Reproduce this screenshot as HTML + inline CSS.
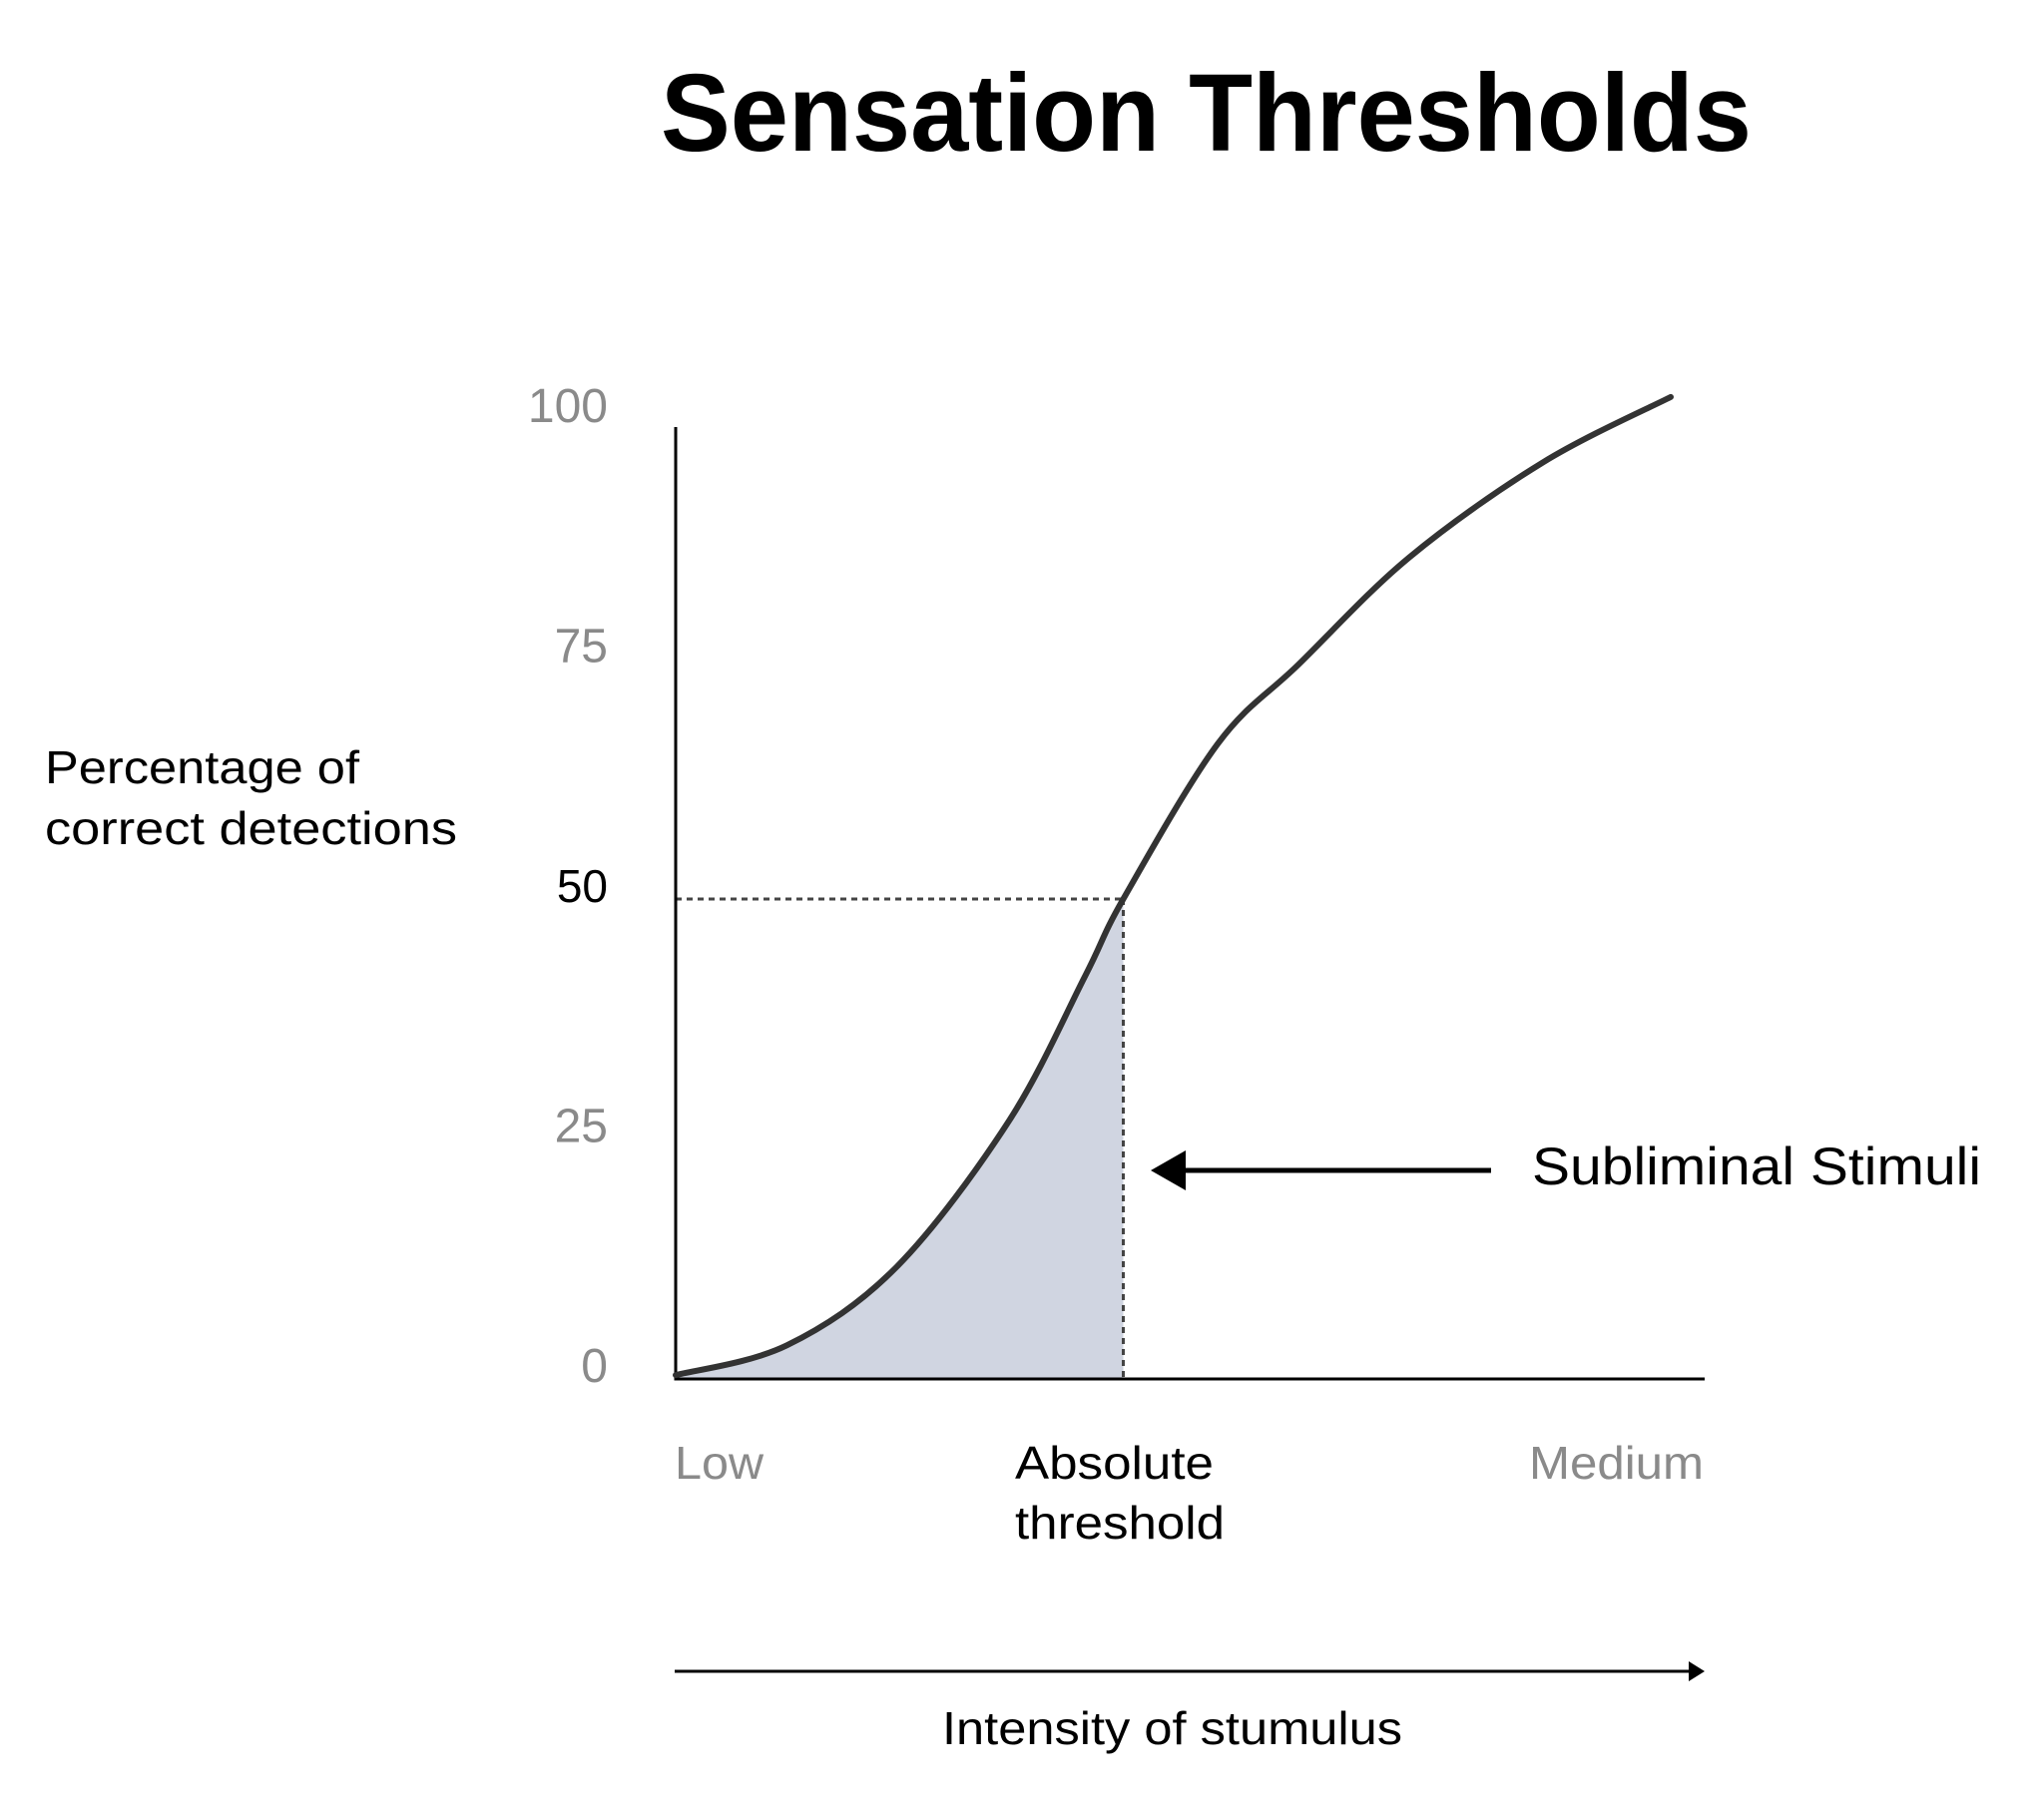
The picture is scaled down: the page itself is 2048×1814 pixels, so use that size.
<!DOCTYPE html>
<html>
<head>
<meta charset="utf-8">
<style>
  html,body{margin:0;padding:0;background:#fff;}
  svg{display:block;font-family:"Liberation Sans",sans-serif;}
</style>
</head>
<body>
<svg id="chart" width="2048" height="1814" viewBox="0 0 2048 1814" xmlns="http://www.w3.org/2000/svg">
  <rect width="2048" height="1814" fill="#fff"/>
  <text x="662" y="151" font-size="110" font-weight="bold" fill="#000" textLength="1093" lengthAdjust="spacingAndGlyphs">Sensation Thresholds</text>

  <text x="45" y="785" font-size="46" fill="#000" textLength="315" lengthAdjust="spacingAndGlyphs">Percentage of</text>
  <text x="45" y="846" font-size="46" fill="#000" textLength="413" lengthAdjust="spacingAndGlyphs">correct detections</text>

  <defs>
    <clipPath id="thresholdClip"><rect id="clipRect" x="0" y="0" width="0" height="1814"/></clipPath>
  </defs>
  <g id="plot"></g>

  <text x="676" y="1482" font-size="46" fill="#8a8a8a" textLength="89" lengthAdjust="spacingAndGlyphs">Low</text>
  <text x="1017" y="1482" font-size="46" fill="#000" textLength="199" lengthAdjust="spacingAndGlyphs">Absolute</text>
  <text x="1017" y="1542" font-size="46" fill="#000" textLength="210" lengthAdjust="spacingAndGlyphs">threshold</text>
  <text x="1532" y="1482" font-size="46" fill="#8a8a8a" textLength="175" lengthAdjust="spacingAndGlyphs">Medium</text>

  <line x1="676" y1="1675" x2="1696" y2="1675" stroke="#000" stroke-width="3"/>
  <polygon points="1708,1675 1692,1665 1692,1685" fill="#000"/>
  <text x="944" y="1748" font-size="46" fill="#000" textLength="461" lengthAdjust="spacingAndGlyphs">Intensity of stumulus</text>

  <line x1="1180" y1="1173" x2="1494" y2="1173" stroke="#000" stroke-width="5"/>
  <polygon points="1153,1173 1188,1153 1188,1193" fill="#000"/>
  <text x="1535" y="1187" font-size="53" fill="#000" textLength="450" lengthAdjust="spacingAndGlyphs">Subliminal Stimuli</text>
</svg>
<script>
const intensity = [0, 10.8, 21.5, 32.4, 39.8, 43.5, 52.7, 60.5, 71.3, 84.3, 96.7];
const detection = [0.4, 3.5, 11.7, 26.9, 42, 50, 66.2, 74.4, 85.6, 95.5, 102.3];
const yTicks = [0, 25, 50, 75, 100];
const yTickLabels = ["0", "25", "50", "75", "100"];
const thresholdX = [43.5];
const thresholdY = [50];

const X0 = 677, X1 = 1708, Y0 = 1382, Y100 = 420;
function sx(v){ return X0 + (X1 - X0) * v / 100; }
function sy(v){ return Y0 - (Y0 - Y100) * v / 100; }

const NS = "http://www.w3.org/2000/svg";
const plot = document.getElementById("plot");
function mk(tag, attrs){ const e = document.createElementNS(NS, tag); for (const k in attrs) e.setAttribute(k, attrs[k]); return e; }

const pts = intensity.map((v, i) => [sx(v), sy(detection[i])]);
let d = "M" + pts[0][0] + "," + pts[0][1];
for (let i = 0; i < pts.length - 1; i++) {
  const p0 = pts[Math.max(0, i - 1)], p1 = pts[i], p2 = pts[i + 1], p3 = pts[Math.min(pts.length - 1, i + 2)];
  const c1x = p1[0] + (p2[0] - p0[0]) / 6, c1y = p1[1] + (p2[1] - p0[1]) / 6;
  const c2x = p2[0] - (p3[0] - p1[0]) / 6, c2y = p2[1] - (p3[1] - p1[1]) / 6;
  d += " C" + c1x + "," + c1y + " " + c2x + "," + c2y + " " + p2[0] + "," + p2[1];
}

document.getElementById("clipRect").setAttribute("x", sx(0));
document.getElementById("clipRect").setAttribute("width", sx(thresholdX[0]) - sx(0));

const fill = mk("path", {d: d + " L" + pts[pts.length-1][0] + "," + sy(0) + " L" + pts[0][0] + "," + sy(0) + " Z", fill: "#d0d5e1", "clip-path": "url(#thresholdClip)"});


plot.appendChild(fill);

const hDash = mk("line", {x1: sx(0), y1: sy(thresholdY[0]), x2: sx(thresholdX[0]), y2: sy(thresholdY[0]), stroke: "#444", "stroke-width": 3, "stroke-dasharray": "6 5"});


plot.appendChild(hDash);

const vDash = mk("line", {x1: sx(thresholdX[0]), y1: sy(thresholdY[0]), x2: sx(thresholdX[0]), y2: sy(0), stroke: "#444", "stroke-width": 3, "stroke-dasharray": "6 5"});


plot.appendChild(vDash);

const yAxis = mk("line", {x1: X0, y1: 428, x2: X0, y2: Y0 + 1.5, stroke: "#000", "stroke-width": 3});


plot.appendChild(yAxis);

const xAxis = mk("line", {x1: X0 - 1.5, y1: Y0, x2: X1, y2: Y0, stroke: "#000", "stroke-width": 3});


plot.appendChild(xAxis);

const curve = mk("path", {d: d, fill: "none", stroke: "#333", "stroke-width": 6, "stroke-linecap": "round"});


plot.appendChild(curve);

yTicks.forEach((t, i) => {
  const bold = t === 50;
  const tx = mk("text", {x: 609, y: sy(t) - 14 + 17, "font-size": bold ? 46 : 48, "text-anchor": "end", fill: bold ? "#000" : "#8a8a8a", "font-weight": "normal"});
  tx.textContent = yTickLabels[i];
  
  
  plot.appendChild(tx);
});
</script>
</body>
</html>
